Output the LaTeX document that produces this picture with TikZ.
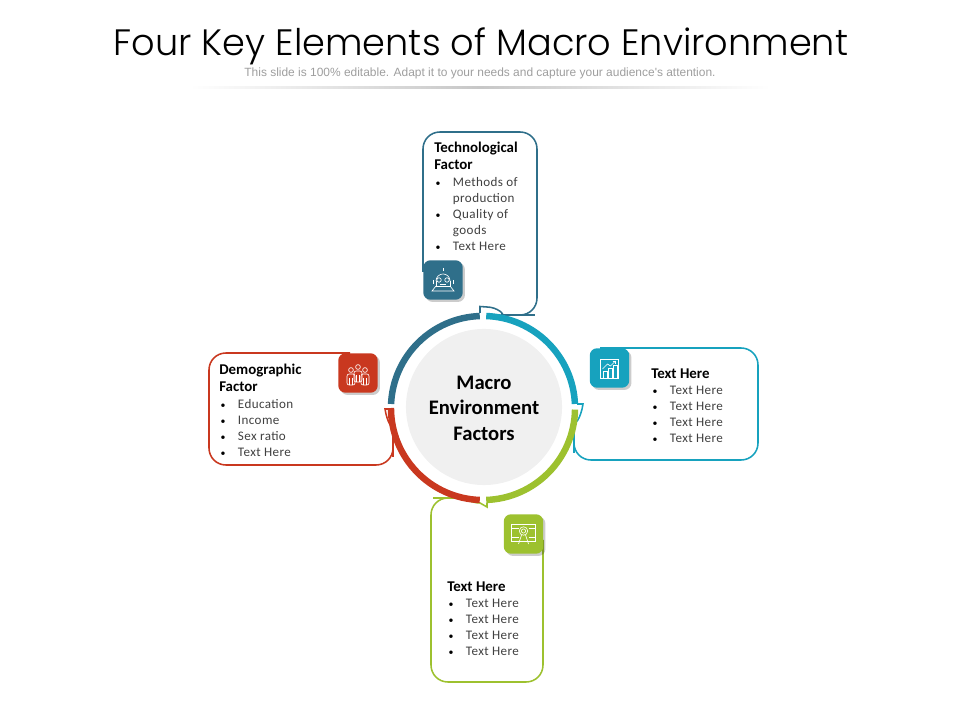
\documentclass[tikz,border=0pt]{standalone}
\usepackage{fontspec}
\setmainfont{Carlito}
\newfontfamily\titlefont{Poppins Light}
\newfontfamily\subfont{Liberation Sans}
\newfontfamily\bodyfont[LetterSpace=3]{Carlito}
\usetikzlibrary{calc, shadows}
\definecolor{techblue}{HTML}{2F6F8A}
\definecolor{tealblue}{HTML}{17A2BE}
\definecolor{leafgreen}{HTML}{9DC12F}
\definecolor{brickred}{HTML}{C9381F}
\newcommand{\bitem}[1]{\makebox[13.3pt][l]{\hspace{1pt}\scriptsize\mdseries\textbullet}{\bodyfont\mdseries\fontsize{9.3}{11.4}\selectfont\color{black!75}#1}}
\newcommand{\bhang}[1]{\hspace{13.3pt}{\bodyfont\mdseries\fontsize{9.3}{11.4}\selectfont\color{black!75}#1}}
\begin{document}
\begin{tikzpicture}[
  x=0.025cm, y=-0.025cm,
  every node/.style={inner sep=0pt},
  ringseg/.style  = {line width=4.6pt},
  cardline/.style = {line width=1.1pt, rounded corners=12pt},
  iconbox/.style  = {fill=#1, rounded corners=5pt, minimum size=28pt,
                     drop shadow={shadow xshift=1.6pt, shadow yshift=-1.6pt, opacity=0.2, fill=black}},
  glyph/.style    = {draw=white, line width=0.45pt},
  cardtext/.style = {anchor=north west, align=left, font=\fontsize{10.6}{11.4}\selectfont\bfseries},
]
  \useasboundingbox (0,0) rectangle (960,720);
  % heading
  \node (title) at (481,46) {\titlefont\fontsize{26.1}{30}\selectfont Four Key Elements of Macro Environment};
  \node[text=black!38] (subtitle) at (480,73) {\subfont\fontsize{8.5}{10}\selectfont This slide is 100\% editable. Adapt it to your needs and capture your audience's attention.};
  \shade[left color=white, right color=white, middle color=black!22] (190,87) rectangle (770,88.5);

  % card outlines
  \draw[cardline, techblue] (423,272) -- (423,132) -- (537,132) -- (537,315) -- (518,315)
    [sharp corners] .. controls (506,315) and (497,307) .. (487,307) -- (480,306.5) -- (480,313);
  \draw[cardline, tealblue] (600,348) -- (758,348) -- (758,460) -- (574,460) -- (574,436)
    [sharp corners] .. controls (574,428) and (581,418) .. (583,404) -- (577,404);
  \draw[cardline, leafgreen] (543,540) -- (543,682) -- (431,682) -- (431,498) -- (450,498)
    [sharp corners] .. controls (462,498) and (472,503) .. (480,503) -- (487,507) -- (487,503);
  \draw[cardline, brickred] (350,353) -- (209,353) -- (209,465) -- (393,465) -- (393,440)
    [sharp corners] .. controls (393,432) and (387,422) .. (385,409) -- (392,409);

  % ring and centre
  \node[circle, fill=black!6, minimum size=111pt] (hub) at (484,407) {};
  \node[align=center, font=\fontsize{14.7}{18.2}\selectfont\bfseries] (hubtext) at (484,408) {Macro\\Environment\\Factors};
  \coordinate (mid) at (483,408);
  \draw[ringseg, techblue]  ($(mid)+(177.5:2.3cm)$) arc[start angle=177.5, end angle=92, radius=2.3cm];
  \draw[ringseg, tealblue]  ($(mid)+(88:2.3cm)$)    arc[start angle=88, end angle=2.5, radius=2.3cm];
  \draw[ringseg, leafgreen] ($(mid)+(-1:2.3cm)$)    arc[start angle=-1, end angle=-88, radius=2.3cm];
  \draw[ringseg, brickred]  ($(mid)+(268:2.3cm)$)   arc[start angle=268, end angle=180, radius=2.3cm];

  % texts
  \node[cardtext] (tech) at (434,142) {Technological\\[0.7pt]Factor\\[0.7pt]
    \bitem{Methods of}\\ \bhang{production}\\ \bitem{Quality of}\\ \bhang{goods}\\ \bitem{Text Here}};
  \node[cardtext] (demo) at (219,364) {Demographic\\[0.7pt]Factor\\[0.7pt]
    \bitem{Education}\\ \bitem{Income}\\ \bitem{Sex ratio}\\ \bitem{Text Here}};
  \node[cardtext] (econ) at (651,368.5) {Text Here\\
    \bitem{Text Here}\\ \bitem{Text Here}\\ \bitem{Text Here}\\ \bitem{Text Here}};
  \node[cardtext] (soci) at (447,581.5) {Text Here\\
    \bitem{Text Here}\\ \bitem{Text Here}\\ \bitem{Text Here}\\ \bitem{Text Here}};

  % icons
  \node[iconbox=techblue]  (robot)  at (443,280) {};
  \node[iconbox=brickred]  (people) at (358,373) {};
  \node[iconbox=tealblue]  (chart)  at (609.5,368) {};
  \node[iconbox=leafgreen] (award)  at (523.5,534) {};
  \begin{scope}[shift={(robot.center)}, glyph]
    \draw (0,-12) -- (0,-9);
    \draw (-7,1) arc[start angle=180, end angle=0, radius=5pt] ;
    \draw (-7,1) -- (-7,6) -- (7,6) -- (7,1);
    \draw (-4,0) circle[radius=1.6pt] (4,0) circle[radius=1.6pt];
    \draw (-10,0) -- (-10,4) (10,0) -- (10,4);
    \draw (-3,4) -- (3,4);
    \draw (-7,6) -- (-11,11) -- (11,11) -- (7,6);
  \end{scope}
  \begin{scope}[shift={(people.center)}, glyph]
    \foreach \dx/\dy in {-7/-3, 0/-6, 7/-3}{
      \draw (\dx,\dy) circle[radius=1.7pt];
      \draw[rounded corners=1.5pt] ($(\dx,\dy)+(-4,4)$) rectangle ($(\dx,\dy)+(4,15)$);
      \draw ($(\dx,\dy)+(-1.5,8)$) -- ($(\dx,\dy)+(-1.5,15)$) ($(\dx,\dy)+(1.5,8)$) -- ($(\dx,\dy)+(1.5,15)$);
    }
  \end{scope}
  \begin{scope}[shift={(chart.center)}, glyph]
    \draw (-9,-9) rectangle (9,10);
    \draw (-6,10) rectangle (-2,3) (-1,10) rectangle (3,0) (4,10) rectangle (8,-3);
    \draw (-7,1) -- (-2,-4) -- (1,-2) -- (6,-7);
    \draw (3,-7) -- (6,-7) -- (6,-4);
  \end{scope}
  \begin{scope}[shift={(award.center)}, glyph]
    \draw (-12,-10) rectangle (12,7);
    \draw (0,-3) circle[radius=3pt] (0,-3) circle[radius=1.5pt];
    \draw (-2,1) -- (-5,10) (2,1) -- (5,10);
    \draw (-12,-6) -- (-5,-6) (5,-6) -- (12,-6) (-12,3) -- (-5,3) (5,3) -- (12,3);
  \end{scope}
\end{tikzpicture}
\end{document}
